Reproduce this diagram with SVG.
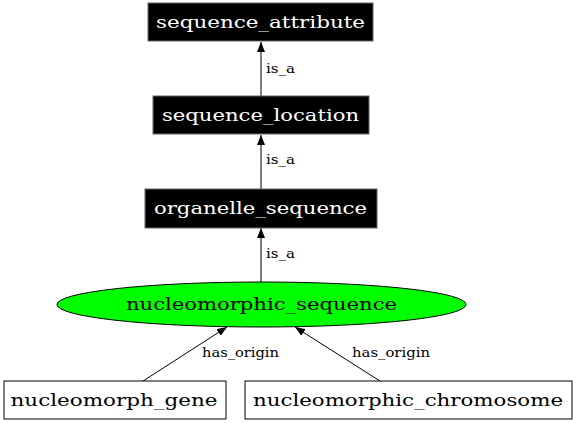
<svg xmlns="http://www.w3.org/2000/svg" width="576" height="423" viewBox="0 0 576 423">
<style>
.box{fill:#000;stroke:#666;stroke-width:1}
.wbox{fill:#fff;stroke:#000;stroke-width:1}
.t{font-family:"DejaVu Serif","Liberation Serif",serif;font-size:17px;text-anchor:middle}
.w{fill:#fff}
.l{font-family:"DejaVu Serif","Liberation Serif",serif;font-size:13px}
.e{stroke:#000;stroke-width:1;fill:none}
</style>
<defs>
<marker id="ah" viewBox="0 0 10 8" refX="10" refY="4" markerWidth="10" markerHeight="8" markerUnits="userSpaceOnUse" orient="auto">
<path d="M0,0 L10,4 L0,8 Z" fill="#000"/>
</marker>
</defs>
<rect width="576" height="423" fill="#fff"/>
<g id="edges">
<line class="e" x1="261" y1="96" x2="261" y2="42" marker-end="url(#ah)"/>
<text class="l" x="266" y="73" textLength="29" lengthAdjust="spacingAndGlyphs">is_a</text>
<line class="e" x1="261" y1="189" x2="261" y2="135" marker-end="url(#ah)"/>
<text class="l" x="266" y="164" textLength="29" lengthAdjust="spacingAndGlyphs">is_a</text>
<line class="e" x1="261" y1="282" x2="261" y2="228" marker-end="url(#ah)"/>
<text class="l" x="266" y="258" textLength="29" lengthAdjust="spacingAndGlyphs">is_a</text>
<line class="e" x1="143" y1="381" x2="227" y2="327" marker-end="url(#ah)"/>
<text class="l" x="202" y="357" textLength="77" lengthAdjust="spacingAndGlyphs">has_origin</text>
<line class="e" x1="380" y1="381" x2="295" y2="327" marker-end="url(#ah)"/>
<text class="l" x="352" y="357" textLength="78" lengthAdjust="spacingAndGlyphs">has_origin</text>
</g>
<g id="sequence_attribute">
<rect class="box" x="148" y="3" width="225" height="38"/>
<text class="t w" x="260.5" y="28" textLength="209" lengthAdjust="spacingAndGlyphs">sequence_attribute</text>
</g>
<g id="sequence_location">
<rect class="box" x="153" y="96" width="216" height="38"/>
<text class="t w" x="260.5" y="121" textLength="197" lengthAdjust="spacingAndGlyphs">sequence_location</text>
</g>
<g id="organelle_sequence">
<rect class="box" x="145" y="189" width="232" height="39"/>
<text class="t w" x="260.5" y="214" textLength="213" lengthAdjust="spacingAndGlyphs">organelle_sequence</text>
</g>
<g id="nucleomorphic_sequence">
<ellipse cx="261.5" cy="304.5" rx="204.5" ry="22.5" fill="#00ff00" stroke="#000"/>
<text class="t" x="261.5" y="310" textLength="271" lengthAdjust="spacingAndGlyphs">nucleomorphic_sequence</text>
</g>
<g id="nucleomorph_gene">
<rect class="wbox" x="4" y="381" width="222" height="38"/>
<text class="t" x="114" y="406" textLength="207" lengthAdjust="spacingAndGlyphs">nucleomorph_gene</text>
</g>
<g id="nucleomorphic_chromosome">
<rect class="wbox" x="245" y="381" width="327" height="38"/>
<text class="t" x="408" y="406" textLength="310" lengthAdjust="spacingAndGlyphs">nucleomorphic_chromosome</text>
</g>
</svg>
